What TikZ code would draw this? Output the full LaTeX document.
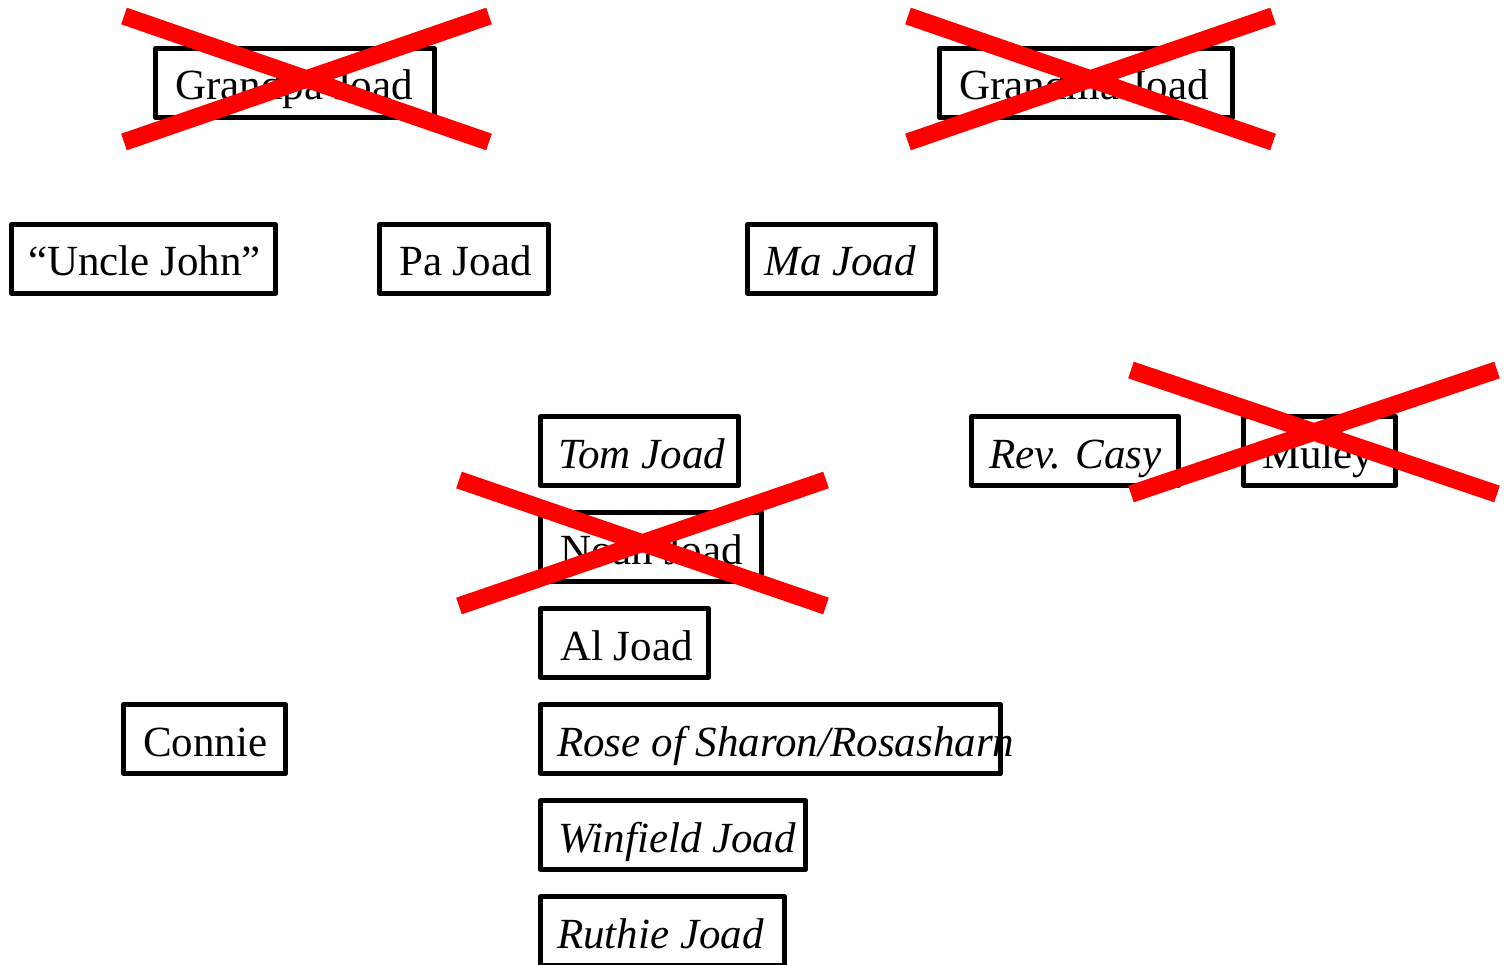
\documentclass[tikz,border=0pt]{standalone}
\usepackage{fontspec}
\setmainfont{Liberation Serif}
\begin{document}
\begin{tikzpicture}[x=1pt,y=-1pt,
  box/.style={draw=black, line width=5pt, line join=round, rectangle, inner sep=0pt, minimum height=69pt},
  lbl/.style={anchor=base west, inner sep=0pt, font=\fontsize{43}{50}\selectfont},
  xmark/.style={draw=red, line width=17.5pt}]
\useasboundingbox (0,0) rectangle (1508,965);
% boxes
\node[box, minimum width=279pt] (gpa) at (295,83) {};
\node[box, minimum width=293pt] (gma) at (1086,83) {};
\node[box, minimum width=264pt] (uncle) at (143.5,259) {};
\node[box, minimum width=169pt] (pa) at (464,259) {};
\node[box, minimum width=188pt] (ma) at (841.5,259) {};
\node[box, minimum width=198pt] (tom) at (639.5,451) {};
\node[box, minimum width=207pt] (casy) at (1075,451) {};
\node[box, minimum width=152pt] (muley) at (1319.5,451) {};
\node[box, minimum width=221pt] (noah) at (651,547) {};
\node[box, minimum width=168pt] (al) at (624.5,643) {};
\node[box, minimum width=162pt] (connie) at (204.5,739) {};
\node[box, minimum width=460pt] (rose) at (770.5,739) {};
\node[box, minimum width=265pt] (winfield) at (673,835) {};
\node[box, minimum width=244pt] (ruthie) at (662.5,931) {};
% labels
\node[lbl] (tgpa) at (175,100) {Grandpa Joad};
\node[lbl] (tgma) at (959,100) {Grandma Joad};
\node[lbl] (tuncle) at (28,276) {“Uncle John”};
\node[lbl] (tpa) at (399,276) {Pa Joad};
\node[lbl] (tma) at (764,276) {\itshape Ma Joad};
\node[lbl] (ttom) at (558,468) {\itshape Tom Joad};
\node[lbl] (tcasy) at (989,468) {\itshape Rev. Casy};
\node[lbl] (tmuley) at (1262,468) {Muley};
\node[lbl] (tnoah) at (560,564) {Noah Joad};
\node[lbl] (tal) at (560,660) {Al Joad};
\node[lbl] (tconnie) at (143,756) {Connie};
\node[lbl] (trose) at (557,756) {\itshape Rose of Sharon/Rosasharn};
\node[lbl] (twinfield) at (558,852) {\itshape Winfield Joad};
\node[lbl] (truthie) at (557,948) {\itshape Ruthie Joad};
% crosses
\draw[xmark] (124,16) -- (489,142);
\draw[xmark] (124,142) -- (489,16);
\draw[xmark] (908,16) -- (1273,142);
\draw[xmark] (908,142) -- (1273,16);
\draw[xmark] (1131,370) -- (1497,494);
\draw[xmark] (1131,494) -- (1497,370);
\draw[xmark] (459,480) -- (826,606);
\draw[xmark] (459,606) -- (826,480);
\end{tikzpicture}
\end{document}
